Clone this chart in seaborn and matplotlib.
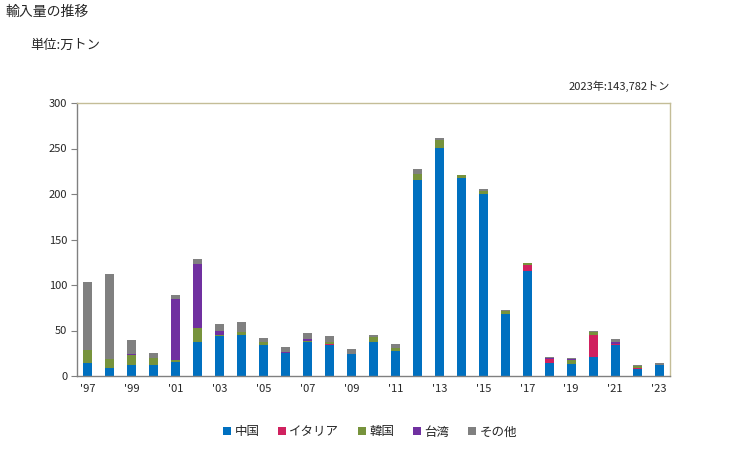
import numpy as np
import pandas as pd
import matplotlib
matplotlib.use("Agg")
import matplotlib.pyplot as plt
import seaborn as sns
from matplotlib.patches import Patch

years = list(range(1997, 2024))
china  = [14.6, 9.2, 12.1, 12.1, 15.8, 37.7, 44.3, 45.4, 34.4, 25.3, 37.7, 34.1, 24.6, 37.7, 27.5,
          215.8, 250.9, 217.9, 200.4, 68.1, 115.4, 14.3, 13.6, 20.9, 34.1, 7.7, 12.4]
italy  = [0, 0, 0, 0, 0, 0, 0, 0, 0, 0, 0, 1.4, 0, 0, 0,
          0, 0, 0, 0, 0, 6.6, 4.8, 0, 24.2, 1.4, 1.5, 0]
korea  = [14.3, 9.5, 10.6, 8.0, 2.1, 15.4, 0.7, 3.3, 3.3, 0, 0.7, 2.2, 0, 5.2, 3.6,
          6.6, 8.4, 3.0, 2.9, 3.7, 1.8, 0, 4.0, 3.6, 0, 2.2, 0]
taiwan = [0, 0, 1.5, 0, 66.7, 70.3, 4.8, 0, 0, 1.4, 2.3, 0, 0, 0, 0,
          0, 0, 0, 0, 0, 0, 1.0, 1.5, 0, 1.5, 0, 0]
other  = [74.4, 93.7, 15.7, 5.2, 4.4, 5.2, 7.3, 10.6, 4.1, 5.2, 6.6, 6.3, 5.1, 2.2, 4.1,
          5.1, 2.2, 0, 2.2, 0.7, 0, 0.8, 0.7, 1.1, 3.7, 0.7, 2.0]

series_names = ["中国", "イタリア", "韓国", "台湾", "その他"]
colors = ["#0070C0", "#D0215F", "#77933C", "#7030A0", "#808080"]
series = [china, italy, korea, taiwan, other]

labels = [str(y) for y in years]
tick_labels = [("'" + str(y)[2:]) if (y - 1997) % 2 == 0 else "" for y in years]

sns.set_theme(style="white")
plt.rcParams['font.family'] = ['Noto Sans CJK JP', 'DejaVu Sans']

fig = plt.figure(figsize=(7.29, 4.5), dpi=100)
ax = fig.add_axes([77/729, 1-376/450, (670-77)/729, (376-103)/450])

cum = np.cumsum(np.array(series), axis=0)
for i in range(len(series) - 1, -1, -1):
    df = pd.DataFrame({"year": labels, "value": cum[i]})
    sns.barplot(data=df, x="year", y="value", color=colors[i], width=0.41,
                saturation=1, ax=ax, order=labels, linewidth=0, edgecolor="none")

ax.set_ylim(0, 300)
ax.set_yticks([0, 50, 100, 150, 200, 250, 300])
ax.set_xticks(range(len(years)))
ax.set_xticklabels(tick_labels)
ax.set_xlim(-0.5, len(years) - 0.5)
ax.set_xlabel("")
ax.set_ylabel("")
ax.tick_params(axis="x", length=0, labelsize=8, pad=6)
ax.tick_params(axis="y", length=4, width=0.8, color="#808080", direction="out", labelsize=8, pad=3, left=True)
for s in ["left", "bottom"]:
    ax.spines[s].set_color("#808080")
    ax.spines[s].set_linewidth(1.0)
for s in ["top", "right"]:
    ax.spines[s].set_color("#C4BD97")
    ax.spines[s].set_linewidth(1.0)

fig.text(5/729, 1-12/450, "輸入量の推移", fontsize=10, ha="left", va="center")
fig.text(30/729, 1-45/450, "単位:万トン", fontsize=9.5, ha="left", va="center")
fig.text(670/729, 1-86/450, "2023年:143,782トン", fontsize=8, ha="right", va="center")

handles = [Patch(facecolor=c, edgecolor="none") for c in colors]
fig.legend(handles, series_names, loc="center", bbox_to_anchor=(370/729, 1-432/450),
           ncol=5, frameon=False, fontsize=9, handlelength=0.6, handleheight=0.6,
           handletextpad=0.3, columnspacing=1.5)

fig.savefig("out.png", dpi=100)
